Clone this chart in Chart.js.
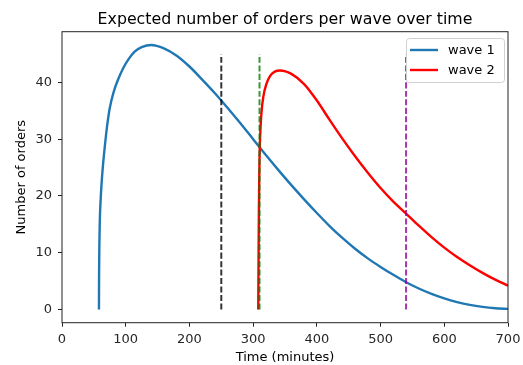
<!DOCTYPE html>
<html>
<head>
<meta charset="utf-8">
<script src="https://cdn.jsdelivr.net/npm/chart.js@4"></script>
<style>
body { margin: 0; background: #fff; }
#myChart { display: block; }
</style>
</head>
<body>
<canvas id="myChart" width="523" height="365"></canvas>
<script>
// values
const wave1Time = [58, 58.2, 58.6, 59.3, 60.5, 62, 64, 67, 71, 75, 81, 88, 96, 104, 114, 125, 140, 160, 180, 200, 220, 240, 260, 280, 300, 320, 340, 360, 380, 400, 420, 440, 460, 480, 500, 520, 540, 560, 580, 600, 620, 640, 660, 680, 700];
const wave1Orders = [0, 6, 11, 15.5, 19, 22, 25, 28.5, 32.5, 35.5, 38.3, 40.5, 42.5, 44, 45.4, 46.2, 46.6, 46.0, 44.7, 42.8, 40.5, 38.1, 35.5, 32.8, 30.0, 27.2, 24.5, 21.9, 19.4, 17.0, 14.7, 12.6, 10.7, 9.0, 7.5, 6.1, 4.8, 3.7, 2.75, 1.95, 1.3, 0.8, 0.45, 0.22, 0.1];

const wave2Time = [308, 308.5, 309, 309.5, 310, 310.5, 311.5, 313, 316, 321, 327, 334, 342, 360, 380, 400, 420, 440, 460, 480, 500, 520, 540, 560, 580, 600, 620, 640, 660, 680, 700];
const wave2Orders = [0, 9, 17, 22.5, 26.5, 28.8, 31.8, 34.6, 37.5, 39.8, 41.2, 41.9, 42.1, 41.5, 39.7, 36.8, 33.4, 30.1, 27.0, 24.1, 21.4, 19.0, 16.9, 14.75, 12.75, 10.9, 9.25, 7.8, 6.45, 5.25, 4.2];

const markerTimes = [250, 310, 540];
const markerColors = ["rgba(0,0,0,0.8)", "rgba(0,128,0,0.8)", "rgba(150,0,160,0.8)"];
const markerTop = 45;

const xTicks = [0, 100, 200, 300, 400, 500, 600, 700];
const yTicks = [0, 10, 20, 30, 40];

const seriesNames = ["wave 1", "wave 2"];
const seriesColors = ["#1f77b4", "#ff0000"];

const toPoints = (xs, ys) => xs.map((x, i) => ({ x: x, y: ys[i] }));

const datasets = [
    {
        label: seriesNames[0],
        data: toPoints(wave1Time, wave1Orders),
        borderColor: seriesColors[0],
        borderWidth: 2.4,
        order: 2
    },
    {
        label: seriesNames[1],
        data: toPoints(wave2Time, wave2Orders),
        borderColor: seriesColors[1],
        borderWidth: 2.4,
        order: 1
    }
];

markerTimes.forEach((t, i) => {
    datasets.push({
        label: "marker" + i,
        data: [{ x: t, y: 0 }, { x: t, y: markerTop }],
        borderColor: markerColors[i],
        borderWidth: 2,
        borderDash: [6, 2.5],
        order: 0
    });
});

const font = { family: "DejaVu Sans", size: 13 };

const framePlugin = {
    id: "frame",
    afterDraw: (chart) => {
        const ctx = chart.ctx;
        const a = chart.chartArea;
        ctx.save();

        ctx.strokeStyle = "#222";
        ctx.lineWidth = 1;
        ctx.strokeRect(a.left, a.top, a.right - a.left, a.bottom - a.top);

        // title
        ctx.fillStyle = "#000";
        ctx.font = "15.8px 'DejaVu Sans'";
        ctx.textAlign = "center";
        ctx.textBaseline = "alphabetic";
        ctx.fillText("Expected number of orders per wave over time", (a.left + a.right) / 2, 23.5);

        // legend
        const bx = 406.5, by = 38.5, bw = 98, bh = 44;
        ctx.fillStyle = "rgba(255,255,255,0.8)";
        ctx.strokeStyle = "#d0d0d0";
        ctx.lineWidth = 1;
        ctx.beginPath();
        ctx.roundRect(bx, by, bw, bh, 3);
        ctx.fill();
        ctx.stroke();

        ctx.font = "13px 'DejaVu Sans'";
        ctx.textAlign = "left";
        ctx.textBaseline = "middle";
        seriesNames.forEach((name, i) => {
            const y = 50 + i * 20;
            ctx.strokeStyle = seriesColors[i];
            ctx.lineWidth = 2.4;
            ctx.beginPath();
            ctx.moveTo(410, y);
            ctx.lineTo(438, y);
            ctx.stroke();
            ctx.fillStyle = "#000";
            ctx.fillText(name, 448, y + 0.5);
        });

        ctx.restore();
    }
};

const ctx = document.getElementById("myChart").getContext("2d");

const myChart = new Chart(ctx, {
    type: "scatter",
    data: { datasets: datasets },
    options: {
        responsive: false,
        animation: false,
        devicePixelRatio: 1,
        showLine: true,
        elements: {
            point: { radius: 0, hoverRadius: 0 },
            line: { cubicInterpolationMode: "monotone", fill: false }
        },
        layout: { padding: { top: 31.7, right: 15, left: 0, bottom: 0 } },
        plugins: {
            legend: { display: false },
            tooltip: { enabled: false },
            title: { display: false }
        },
        scales: {
            x: {
                type: "linear",
                min: 0,
                max: 700,
                afterBuildTicks: (s) => { s.ticks = xTicks.map(v => ({ value: v })); },
                afterFit: (s) => { s.height = 42.3; s.paddingLeft = 0; s.paddingRight = 0; },
                grid: { display: true, drawOnChartArea: false, tickLength: 4, tickColor: "#222", tickWidth: 1 },
                border: { display: false },
                ticks: { color: "#262626", font: font, padding: 5, maxRotation: 0, autoSkip: false },
                title: { display: true, text: "Time (minutes)", color: "#000", font: font, padding: { top: 0, bottom: 0 } }
            },
            y: {
                type: "linear",
                min: -2.33,
                max: 48.93,
                afterBuildTicks: (s) => { s.ticks = yTicks.map(v => ({ value: v })); },
                afterFit: (s) => { s.width = 62; s.paddingTop = 0; s.paddingBottom = 0; },
                grid: { display: true, drawOnChartArea: false, tickLength: 4, tickColor: "#222", tickWidth: 1 },
                border: { display: false },
                ticks: { color: "#262626", font: font, padding: 6 },
                title: { display: true, text: "Number of orders", color: "#000", font: font, padding: { top: 14, bottom: 0 } }
            }
        }
    },
    plugins: [framePlugin]
});
</script>
</body>
</html>
